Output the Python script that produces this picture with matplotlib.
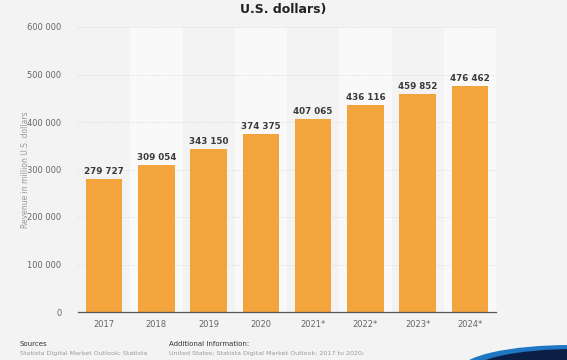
import matplotlib.pyplot as plt
from matplotlib.patches import Ellipse

# Data
years = ['2017', '2018', '2019', '2020', '2021*', '2022*', '2023*', '2024*']
revenue = [279727, 309054, 343150, 374375, 407065, 436116, 459852, 476462]
yticks = [0, 100000, 200000, 300000, 400000, 500000, 600000]

BG = '#f3f3f3'
BAR = '#f3a43c'

fig = plt.figure(figsize=(5.67, 3.6), dpi=100, facecolor=BG)
ax = fig.add_axes([78 / 567, 1 - 312 / 360, 418 / 567, 285 / 360])
ax.set_facecolor(BG)

x = list(range(len(years)))

# alternating column bands
for i in x:
    if i % 2 == 1:
        ax.axvspan(i - 0.5, i + 0.5, color='#f9f9f9', zorder=0, lw=0)

ax.bar(x, revenue, width=0.7, color=BAR, zorder=3)

for xi, v in zip(x, revenue):
    label = f'{v:,}'.replace(',', ' ')
    ax.text(xi, v + 6000, label, ha='center', va='bottom', fontsize=6.3,
            fontweight='bold', color='#3a3a3a', zorder=4)

ax.set_xlim(-0.5, len(years) - 0.5)
ax.set_ylim(0, 600000)
ax.set_yticks(yticks)
ax.set_yticklabels([f'{t:,}'.replace(',', ' ') for t in yticks])
ax.set_xticks(x)
ax.set_xticklabels(years)
ax.tick_params(axis='both', length=0, labelsize=6, colors='#666666')
ax.tick_params(axis='y', pad=12)
ax.tick_params(axis='x', pad=6)

ax.grid(axis='y', color='#dddddd', linestyle=(0, (2, 2)), linewidth=0.6, zorder=1)
for s in ['top', 'right', 'left']:
    ax.spines[s].set_visible(False)
ax.spines['bottom'].set_color('#555555')
ax.spines['bottom'].set_linewidth(0.9)
ax.spines['bottom'].set_zorder(5)

ax.set_ylabel('Revenue in million U.S. dollars', fontsize=5.5, color='#999999')
ax.yaxis.set_label_coords(-48 / 418, 0.5)

# title (cut off at top)
fig.text(283 / 567, 1 - 10 / 360, 'U.S. dollars)', ha='center', va='center',
         fontsize=9, fontweight='bold', color='#222222')

# footer
fig.text(20 / 567, 1 - 344 / 360, 'Sources', fontsize=5, color='#333333', va='center')
fig.text(20 / 567, 1 - 353 / 360, 'Statista Digital Market Outlook; Statista',
         fontsize=4.6, color='#999999', va='center')
fig.text(169 / 567, 1 - 344 / 360, 'Additional Information:', fontsize=5, color='#333333', va='center')
fig.text(169 / 567, 1 - 353 / 360, 'United States; Statista Digital Market Outlook; 2017 to 2020;',
         fontsize=4.6, color='#999999', va='center')

# logo swoosh in bottom right corner
e1 = Ellipse((570 / 567, 1 - 370 / 360), 220 / 567, 50 / 360, transform=fig.transFigure,
             facecolor='#1f77c4', edgecolor='none')
e2 = Ellipse((575 / 567, 1 - 372 / 360), 210 / 567, 46 / 360, transform=fig.transFigure,
             facecolor='#0b1f44', edgecolor='none')
fig.patches.extend([e1, e2])

fig.savefig('out.png', dpi=100, facecolor=BG)
